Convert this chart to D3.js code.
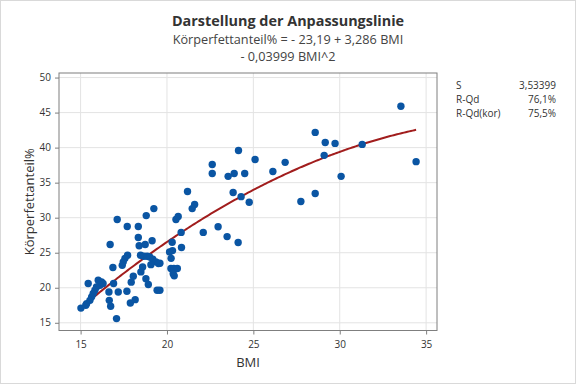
<!DOCTYPE html>
<html>
<head>
<meta charset="utf-8">
<script src="https://cdn.jsdelivr.net/npm/d3@7"></script>
<style>
  body { margin: 0; background: #fff; }
  text { font-family: "Segoe UI", "Open Sans", sans-serif; fill: #333; }
</style>
</head>
<body>
<div id="chart"></div>
<script>
// BMI vs body fat
var bmi = [33.54, 34.42, 31.3, 28.58, 29.16, 29.73, 29.1, 30.08, 28.58, 27.75,
  26.84, 26.13, 25.1, 24.14, 24.5, 23.89, 23.54, 23.83, 24.29, 24.76,
  22.62, 22.62, 21.19, 21.46, 21.6, 20.52, 20.65, 22.1, 22.96, 23.48,
  24.12, 20.82, 20.3, 20.32, 20.15, 20.84, 20.24, 19.59, 20.23, 20.4,
  20.6, 20.36, 20.42, 19.24, 18.8, 17.12, 17.7, 18.34, 18.34, 19.14,
  16.71, 18.39, 18.74, 17.72, 17.57, 17.47, 17.41, 16.87, 18.47, 18.66,
  18.85, 19.0, 19.18, 19.36, 19.51, 19.07, 18.05, 17.93, 18.59, 18.49,
  18.78, 18.92, 17.68, 19.43, 19.59, 16.91, 17.18, 16.64, 15.44, 16.02,
  16.21, 16.3, 16.12, 15.92, 15.83, 15.73, 15.64, 15.54, 15.35, 15.02,
  15.3, 16.66, 16.74, 17.88, 18.16, 17.08];
var fat = [45.9, 38.0, 40.46, 42.17, 40.74, 40.6, 38.9, 35.9, 33.46, 32.3,
  37.9, 36.6, 38.3, 39.6, 36.3, 36.3, 35.9, 33.6, 33.0, 32.2,
  37.6, 36.3, 33.74, 31.3, 31.9, 29.74, 30.17, 27.9, 28.7, 27.3,
  26.46, 27.9, 26.5, 25.3, 25.1, 25.74, 24.2, 23.5, 22.74, 22.74,
  22.74, 22.0, 21.7, 31.3, 30.3, 29.74, 28.74, 28.74, 27.17, 26.7,
  26.17, 26.0, 26.17, 24.64, 24.2, 23.7, 23.2, 22.9, 24.64, 24.5,
  24.5, 24.4, 24.07, 23.7, 23.46, 23.3, 21.64, 20.8, 22.97, 22.26,
  21.3, 20.46, 19.5, 19.64, 19.64, 20.6, 19.4, 19.4, 20.6, 21.07,
  20.83, 20.6, 20.36, 20.1, 19.64, 19.17, 18.7, 18.2, 17.74, 17.1,
  17.5, 18.2, 17.36, 17.83, 18.3, 15.6];

// fitted quadratic
var coef = [-23.19, 3.286, -0.03999];
var xTicks = [15, 20, 25, 30, 35];
var yTicks = [15, 20, 25, 30, 35, 40, 45, 50];
var statNames = ["S", "R-Qd", "R-Qd(kor)"];
var statValues = ["3,53399", "76,1%", "75,5%"];

var width = 576, height = 384;
var plotLeft = 59, plotRight = 437, plotTop = 73, plotBottom = 330.5;

var svg = d3.select("#chart").append("svg")
  .attr("width", width)
  .attr("height", height);

svg.append("rect")
  .attr("x", 0.5).attr("y", 0.5)
  .attr("width", width - 1).attr("height", height - 1)
  .attr("fill", "#fff").attr("stroke", "#d9d9d9");

var x = d3.scaleLinear().domain([13.75, 35.63]).range([plotLeft, plotRight]);
var y = d3.scaleLinear().domain([13.9, 50.65]).range([plotBottom, plotTop]);

// gridlines
svg.append("g").selectAll("line").data(xTicks).enter().append("line")
  .attr("x1", d => x(d)).attr("x2", d => x(d))
  .attr("y1", plotTop).attr("y2", plotBottom)
  .attr("stroke", "#e3e3e3");
svg.append("g").selectAll("line").data(yTicks).enter().append("line")
  .attr("y1", d => y(d)).attr("y2", d => y(d))
  .attr("x1", plotLeft).attr("x2", plotRight)
  .attr("stroke", "#e3e3e3");

// axes
var xAxis = svg.append("g")
  .attr("transform", "translate(0," + plotBottom + ")")
  .call(d3.axisBottom(x).tickValues(xTicks).tickSize(4).tickPadding(6));
var yAxis = svg.append("g")
  .attr("transform", "translate(" + plotLeft + ",0)")
  .call(d3.axisLeft(y).tickValues(yTicks).tickSize(4).tickPadding(4));
[xAxis, yAxis].forEach(function(a) {
  a.select(".domain").remove();
  a.selectAll("line").attr("stroke", "#7f7f7f");
  a.selectAll("text").style("font-size", "10px")
    .style("font-family", "'Segoe UI', 'Open Sans', sans-serif").attr("fill", "#333");
});

// fitted line
var xs = d3.range(d3.min(bmi), d3.max(bmi), 0.1);
xs.push(d3.max(bmi));
var line = d3.line()
  .x(d => x(d))
  .y(d => y(coef[0] + coef[1] * d + coef[2] * d * d));
svg.append("path")
  .datum(xs)
  .attr("d", line)
  .attr("fill", "none")
  .attr("stroke", "#a11d1d")
  .attr("stroke-width", 2);

// points
svg.append("g").selectAll("circle")
  .data(bmi.map((b, i) => [b, fat[i]]))
  .enter().append("circle")
  .attr("cx", d => x(d[0]))
  .attr("cy", d => y(d[1]))
  .attr("r", 3.7)
  .attr("fill", "#0a55a3");

// frame
svg.append("rect")
  .attr("x", plotLeft).attr("y", plotTop)
  .attr("width", plotRight - plotLeft).attr("height", plotBottom - plotTop)
  .attr("fill", "none").attr("stroke", "#7f7f7f");

// titles
svg.append("text").attr("x", 288).attr("y", 26)
  .attr("text-anchor", "middle")
  .style("font-size", "14.4px").style("font-weight", "bold")
  .text("Darstellung der Anpassungslinie");
svg.append("text").attr("x", 288).attr("y", 44)
  .attr("text-anchor", "middle")
  .style("font-size", "12.7px").style("fill", "#444")
  .text("Körperfettanteil% = - 23,19 + 3,286 BMI");
svg.append("text").attr("x", 288).attr("y", 61)
  .attr("text-anchor", "middle")
  .style("font-size", "12.7px").style("fill", "#444")
  .text("- 0,03999 BMI^2");

svg.append("text").attr("x", (plotLeft + plotRight) / 2).attr("y", 367)
  .attr("text-anchor", "middle")
  .style("font-size", "13px")
  .text("BMI");
svg.append("text")
  .attr("transform", "translate(34," + ((plotTop + plotBottom) / 2) + ") rotate(-90)")
  .attr("text-anchor", "middle")
  .style("font-size", "13px")
  .text("Körperfettanteil%");

// stats box
var stats = svg.append("g").style("font-size", "10px");
statNames.forEach(function(n, i) {
  stats.append("text").attr("x", 456).attr("y", 89 + i * 14.2).text(n);
  stats.append("text").attr("x", 556).attr("y", 89 + i * 14.2)
    .attr("text-anchor", "end").text(statValues[i]);
});
</script>
</body>
</html>
